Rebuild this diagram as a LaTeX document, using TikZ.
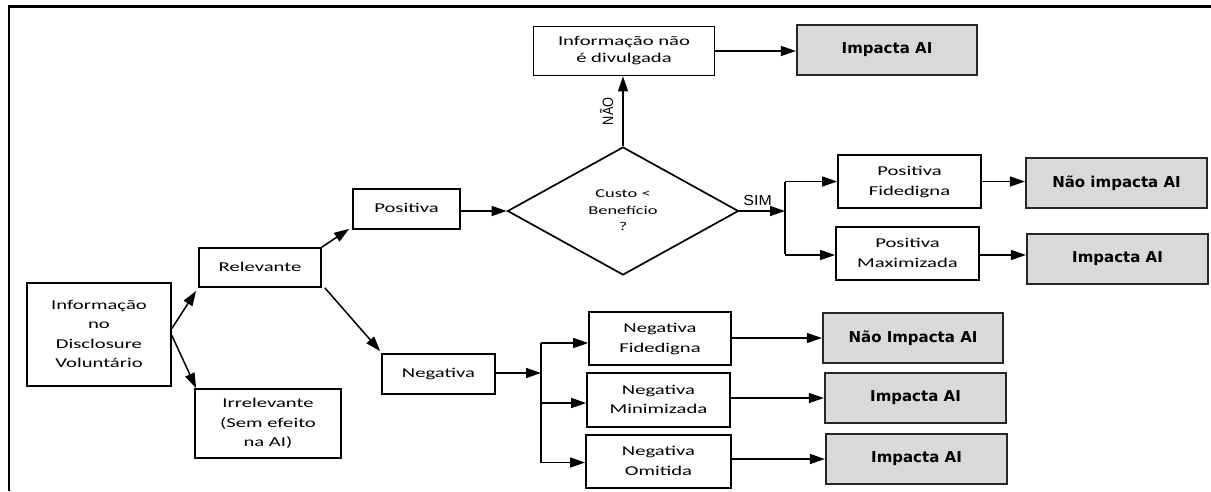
\documentclass[tikz,border=0pt]{standalone}
\usepackage{fontspec}
\usepackage{graphicx}
\setmainfont{Carlito}
\newfontfamily\grayfont{DejaVu Sans}
\newfontfamily\simfont{Liberation Sans}
\newfontfamily\naofont{Liberation Sans}
\usetikzlibrary{arrows.meta,shapes.geometric,calc}
\newcommand{\wt}[1]{\scalebox{1.53}[1]{\begin{tabular}{@{}c@{}}#1\end{tabular}}}
\tikzset{
  box/.style={draw=black, line width=1.7pt, fill=white, inner sep=0pt, align=center,
    font=\fontsize{13.5}{19.5}\selectfont},
  graybox/.style={draw=black!85, line width=2.2pt, fill=gray!30, inner sep=0pt, align=center,
    font=\grayfont\bfseries\fontsize{15}{18}\selectfont},
  arr/.style={line width=1.5pt, -{Triangle[length=15pt,width=10pt]}},
  plain/.style={line width=1.5pt},
}
\begin{document}
\begin{tikzpicture}[x=1pt,y=-1pt]
\useasboundingbox (0,0) rectangle (1211,491);
% frame
\draw[line width=2.5pt] (9,491) -- (9,6.5) -- (1211,6.5);

% nodes
\node[box, minimum width=144, minimum height=103] (info) at (99,334.5)
  {\wt{Informação\\no\\Disclosure\\Voluntário}};
\node[box, minimum width=122, minimum height=39] (rel) at (260,267.5) {\wt{Relevante}};
\node[box, minimum width=146, minimum height=69] (irr) at (268,423.5)
  {\wt{Irrelevante\\(Sem efeito\\na AI)}};
\node[box, minimum width=107, minimum height=40] (pos) at (406.5,209) {\wt{Positiva}};
\node[box, minimum width=113, minimum height=40] (neg) at (438.5,374) {\wt{Negativa}};
\node[draw=black, line width=1.7pt, diamond, inner sep=0pt, minimum width=231, minimum height=128,
  align=center, font=\fontsize{12}{16.5}\selectfont] (dia) at (623,211)
  {\wt{Custo <\\Benefício\\?}};
\node[box, minimum width=181, minimum height=49, font=\fontsize{13.5}{17}\selectfont] (nd) at (624,51)
  {\wt{Informação não\\é divulgada}};
\node[graybox, minimum width=180, minimum height=50] (ia1) at (887,50) {Impacta AI};
\node[box, minimum width=143, minimum height=53] (pf) at (909.5,181.5) {\wt{Positiva\\Fidedigna}};
\node[box, minimum width=143, minimum height=53] (pm) at (907.5,253.5) {\wt{Positiva\\Maximizada}};
\node[graybox, minimum width=181, minimum height=50] (npi) at (1116.5,183) {Não impacta AI};
\node[graybox, minimum width=181, minimum height=50] (ia2) at (1117.5,259) {Impacta AI};
\node[box, minimum width=142, minimum height=53] (nf) at (660,338.5) {\wt{Negativa\\Fidedigna}};
\node[box, minimum width=143, minimum height=54] (nm) at (658.5,400) {\wt{Negativa\\Minimizada}};
\node[box, minimum width=145, minimum height=53] (no) at (658.5,461.5) {\wt{Negativa\\Omitida}};
\node[graybox, minimum width=180, minimum height=50] (nia) at (913,338) {Não Impacta AI};
\node[graybox, minimum width=181, minimum height=50] (ia3) at (915.5,398) {Impacta AI};
\node[graybox, minimum width=181, minimum height=50] (ia4) at (916.5,459) {Impacta AI};

% junctions
\coordinate (sj) at (785,211);
\coordinate (nj) at (541,373);

% connectors
\draw[arr] ($(info.east)+(0,-6)$) -- ($(rel.south west)+(-2,3)$);
\draw[arr] ($(info.east)+(0,1)$) -- ($(irr.north west)+(2,0)$);
\draw[arr] (rel.north east) -- ($(pos.south west)+(-3,-1)$);
\draw[arr] ($(rel.south east)+(3,0)$) -- ($(neg.north west)+(-1,-2)$);
\draw[arr] (pos.east |- dia.west) -- (dia.west);
\draw[arr] (dia.north) -- node[midway, rotate=90, anchor=south, inner sep=9pt,
  font=\naofont\fontsize{15}{15}\selectfont] {\scalebox{0.85}[1]{NÃO}} (dia.north |- nd.south);
\draw[arr] (nd.east) -- (nd.east -| ia1.west);
\draw[arr] (dia.east) -- node[pos=0.4, above=1pt, font=\simfont\fontsize{14.5}{15}\selectfont] {\scalebox{1.1}[1]{SIM}} (sj);
\draw[plain] (sj |- pf.west) -- (sj |- pm.west);
\draw[arr] (sj |- pf.west) -- (pf.west);
\draw[arr] ($(sj |- pm.west)+(0,1.5)$) -- ($(pm.west)+(0,1.5)$);
\draw[arr] (pf.east) -- (pf.east -| npi.west);
\draw[arr] ($(pm.east)+(0,1.5)$) -- ($(pm.east -| ia2.west)+(0,1.5)$);

\draw[arr] (neg.east |- nj) -- (nj);
\draw[plain] ($(nj |- nf.west)+(0,4.5)$) -- ($(nj |- no.west)+(0,1)$);
\draw[arr] ($(nj |- nf.west)+(0,4.5)$) -- ($(nf.west)+(0,4.5)$);
\draw[arr] ($(nj |- nm.west)+(0,3)$) -- ($(nm.west)+(0,3)$);
\draw[arr] ($(nj |- no.west)+(0,1)$) -- ($(no.west)+(0,1)$);
\draw[arr] (nf.east |- nia.west) -- (nia.west);
\draw[arr] (nm.east |- ia3.west) -- (ia3.west);
\draw[arr] (no.east |- ia4.west) -- (ia4.west);
\end{tikzpicture}
\end{document}
